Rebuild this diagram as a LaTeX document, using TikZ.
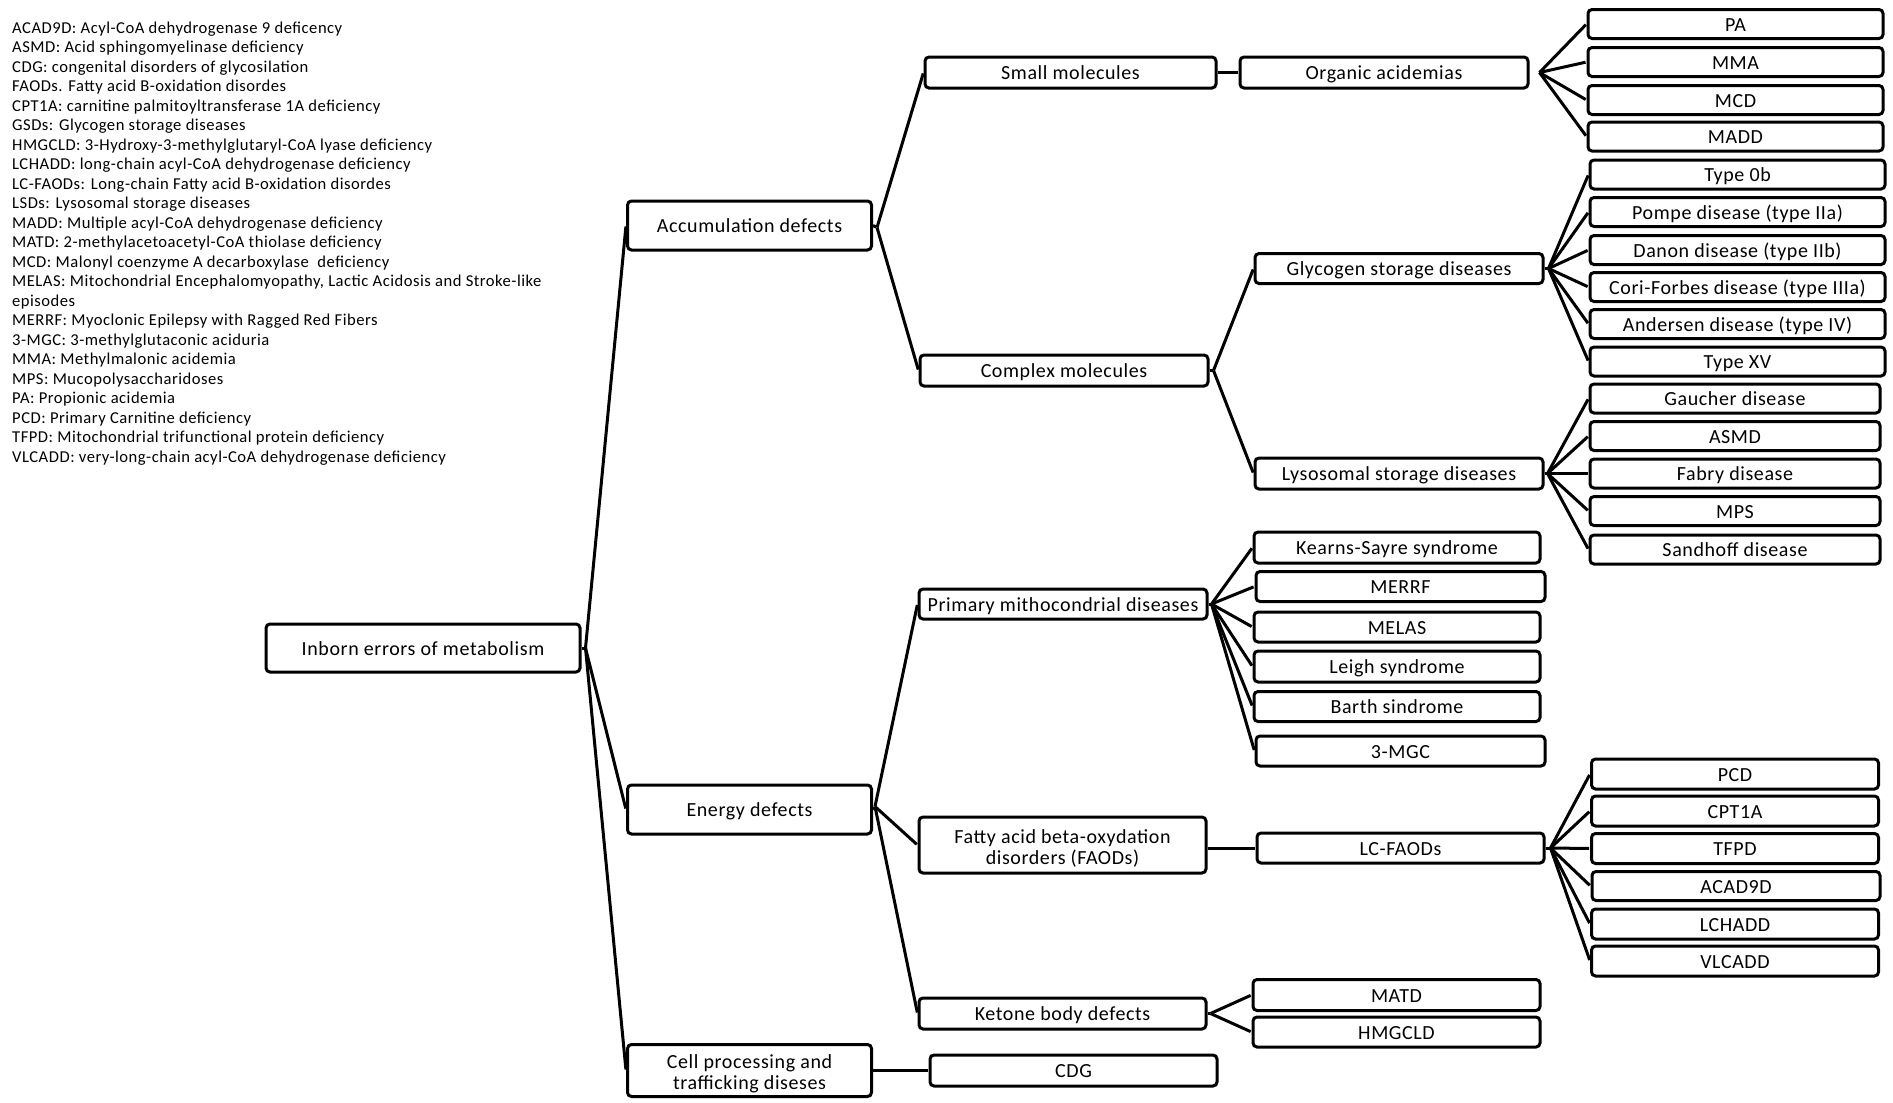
\documentclass[tikz,border=0pt]{standalone}
\usepackage{fontspec}
\usetikzlibrary{calc}
\newfontfamily\diagfont[LetterSpace=3]{Carlito}
\newcommand\dgboxfont{\diagfont\fontsize{20}{21}\selectfont}
\newcommand\dglegfont{\diagfont\fontsize{16.6}{19.5}\selectfont}
\newcommand\dgstrut{\rule{0pt}{20pt}}
\tikzset{
  box/.style={draw, line width=3pt, rounded corners=4pt, inner sep=0pt, align=center, font=\dgboxfont},
  one/.style={box, text height=16pt, text depth=2pt},
  link/.style={line width=3pt, shorten >=1pt},
  leg/.style={anchor=base west, inner sep=0pt, font=\dglegfont},
  wh/.style 2 args={minimum width=#1pt, minimum height=#2pt},
}
\begin{document}
\begin{tikzpicture}[x=1pt, y=-1pt]
\fill[white] (0,0) rectangle (1893,1103);
\useasboundingbox (0,0) rectangle (1893,1103);

% legend
\node[leg] (l1) at (12,33.3) {ACAD9D: Acyl-CoA dehydrogenase 9 deficency};
\node[leg] (l2) at (12,52.8) {ASMD: Acid sphingomyelinase deficiency};
\node[leg] (l3) at (12,72.3) {CDG: congenital disorders of glycosilation};
\node[leg] (l4) at (12,91.8) {FAODs. Fatty acid B-oxidation disordes};
\node[leg] (l5) at (12,111.3) {CPT1A: carnitine palmitoyltransferase 1A deficiency};
\node[leg] (l6) at (12,130.8) {GSDs: Glycogen storage diseases};
\node[leg] (l7) at (12,150.3) {HMGCLD: 3-Hydroxy-3-methylglutaryl-CoA lyase deficiency};
\node[leg] (l8) at (12,169.8) {LCHADD: long-chain acyl-CoA dehydrogenase deficiency};
\node[leg] (l9) at (12,189.3) {LC-FAODs: Long-chain Fatty acid B-oxidation disordes};
\node[leg] (l10) at (12,208.8) {LSDs: Lysosomal storage diseases};
\node[leg] (l11) at (12,228.3) {MADD: Multiple acyl-CoA dehydrogenase deficiency};
\node[leg] (l12) at (12,247.8) {MATD: 2-methylacetoacetyl-CoA thiolase deficiency};
\node[leg] (l13) at (12,267.3) {MCD: Malonyl coenzyme A decarboxylase\ \ deficiency};
\node[leg] (l14) at (12,286.8) {MELAS: Mitochondrial Encephalomyopathy, Lactic Acidosis and Stroke-like};
\node[leg] (l15) at (12,306.3) {episodes};
\node[leg] (l16) at (12,325.8) {MERRF: Myoclonic Epilepsy with Ragged Red Fibers};
\node[leg] (l17) at (12,345.3) {3-MGC: 3-methylglutaconic aciduria};
\node[leg] (l18) at (12,364.8) {MMA: Methylmalonic acidemia};
\node[leg] (l19) at (12,384.3) {MPS: Mucopolysaccharidoses};
\node[leg] (l20) at (12,403.8) {PA: Propionic acidemia};
\node[leg] (l21) at (12,423.3) {PCD: Primary Carnitine deficiency};
\node[leg] (l22) at (12,442.8) {TFPD: Mitochondrial trifunctional protein deficiency};
\node[leg] (l23) at (12,462.3) {VLCADD: very-long-chain acyl-CoA dehydrogenase deficiency};

% root and level 1
\node[one, wh={314}{48}] (inborn) at (423,648) {Inborn errors of metabolism};
\node[one, wh={244}{49}] (accum) at (749.5,225.5) {Accumulation defects};
\node[one, wh={244}{49}] (energy) at (749.5,809.5) {Energy defects};
\node[box, wh={244}{52}] (cell) at (749.5,1070.5) {\dgstrut Cell processing and\\trafficking diseses};

% level 2
\node[one, wh={291}{31}] (small) at (1070.5,72.5) {Small molecules};
\node[one, wh={288}{31}] (organic) at (1384,72.5) {Organic acidemias};
\node[one, wh={288}{31}] (complex) at (1064,370.5) {Complex molecules};
\node[one, wh={288}{30}] (glycogen) at (1399,268.5) {Glycogen storage diseases};
\node[one, wh={288}{31}] (lyso) at (1399,473.5) {Lysosomal storage diseases};
\node[one, wh={288}{30}] (primary) at (1063,604) {Primary mithocondrial diseases};
\node[box, wh={287}{56}] (faods) at (1062.5,845) {\dgstrut Fatty acid beta-oxydation\\disorders (FAODs)};
\node[one, wh={287}{31}] (ketone) at (1062.5,1013.5) {Ketone body defects};
\node[one, wh={287}{31}] (cdg) at (1073.5,1070.5) {CDG};

% level 3 (middle column)
\node[one, wh={286}{31}] (kearns) at (1397,547.5) {Kearns-Sayre syndrome};
\node[one, wh={289}{30}] (merrf) at (1400.5,586.5) {MERRF};
\node[one, wh={286}{30}] (melas) at (1397,627) {MELAS};
\node[one, wh={286}{31}] (leigh) at (1397,666.5) {Leigh syndrome};
\node[one, wh={286}{30}] (barth) at (1397,706.5) {Barth sindrome};
\node[one, wh={289}{30}] (mgc) at (1400.5,751) {3-MGC};
\node[one, wh={287}{30}] (lcfaods) at (1400.5,848) {LC-FAODs};
\node[one, wh={287}{31}] (matd) at (1396.5,995) {MATD};
\node[one, wh={287}{30}] (hmgcld) at (1396.5,1032) {HMGCLD};

% right column
\node[one, wh={295}{29}] (pa) at (1735.5,24) {PA};
\node[one, wh={295}{29}] (mma) at (1735.5,62) {MMA};
\node[one, wh={295}{29}] (mcd) at (1735.5,100) {MCD};
\node[one, wh={295}{29}] (madd) at (1735.5,136.5) {MADD};
\node[one, wh={295}{29}] (type0b) at (1737.5,174.5) {Type 0b};
\node[one, wh={295}{29}] (pompe) at (1737.5,212) {Pompe disease (type IIa)};
\node[one, wh={295}{29}] (danon) at (1737.5,250) {Danon disease (type IIb)};
\node[one, wh={295}{29}] (cori) at (1737.5,287) {Cori-Forbes disease (type IIIa)};
\node[one, wh={295}{29}] (andersen) at (1737.5,324) {Andersen disease (type IV)};
\node[one, wh={295}{29}] (typexv) at (1737.5,361.5) {Type XV};
\node[one, wh={290}{29}] (gaucher) at (1735,398.5) {Gaucher disease};
\node[one, wh={290}{29}] (asmd) at (1735,436) {ASMD};
\node[one, wh={290}{29}] (fabry) at (1735,473.5) {Fabry disease};
\node[one, wh={290}{29}] (mps) at (1735,511) {MPS};
\node[one, wh={290}{29}] (sandhoff) at (1735,549.5) {Sandhoff disease};
\node[one, wh={287}{30}] (pcd) at (1735,774) {PCD};
\node[one, wh={287}{30}] (cpt1a) at (1735,811) {CPT1A};
\node[one, wh={287}{30}] (tfpd) at (1735,848.5) {TFPD};
\node[one, wh={288}{29}] (acad9d) at (1736,886) {ACAD9D};
\node[one, wh={287}{30}] (lchadd) at (1735,924) {LCHADD};
\node[one, wh={287}{30}] (vlcadd) at (1735,961) {VLCADD};

% fan points
\coordinate (fI) at ($(inborn.east)+(4,0)$);
\coordinate (fA) at ($(accum.east)+(4,2)$);
\coordinate (fE) at ($(energy.east)+(2,-3)$);
\coordinate (fC) at ($(complex.east)+(4,0)$);
\coordinate (fO) at ($(organic.east)+(10,0)$);
\coordinate (fG) at ($(glycogen.east)+(4,0)$);
\coordinate (fL) at ($(lyso.east)+(3,0)$);
\coordinate (fP) at ($(primary.east)+(3,0)$);
\coordinate (fF) at ($(lcfaods.east)+(5,0)$);
\coordinate (fK) at ($(ketone.east)+(3,0)$);

% connectors
\draw[link] (inborn.east) -- (fI);
\foreach \c in {accum,energy,cell} \draw[link] (fI) -- (\c.west);
\draw[link] (accum.east) -- (fA);
\foreach \c in {small,complex} \draw[link] (fA) -- (\c.west);
\draw[link] (energy.east) -- (fE);
\foreach \c in {primary,faods,ketone} \draw[link] (fE) -- (\c.west);
\draw[link] (cell.east) -- (cdg.west);
\draw[link] (small.east) -- (organic.west);
\foreach \c in {pa,mma,mcd,madd} \draw[link] (fO) -- (\c.west);
\draw[link] (complex.east) -- (fC);
\foreach \c in {glycogen,lyso} \draw[link] (fC) -- (\c.west);
\draw[link] (glycogen.east) -- (fG);
\foreach \c in {type0b,pompe,danon,cori,andersen,typexv} \draw[link] (fG) -- (\c.west);
\draw[link] (lyso.east) -- (fL);
\foreach \c in {gaucher,asmd,fabry,mps,sandhoff} \draw[link] (fL) -- (\c.west);
\draw[link] (primary.east) -- (fP);
\foreach \c in {kearns,merrf,melas,leigh,barth,mgc} \draw[link] (fP) -- (\c.west);
\draw[link] (faods.east |- lcfaods.west) -- (lcfaods.west);
\draw[link] (lcfaods.east) -- (fF);
\foreach \c in {pcd,cpt1a,tfpd,acad9d,lchadd,vlcadd} \draw[link] (fF) -- (\c.west);
\draw[link] (ketone.east) -- (fK);
\foreach \c in {matd,hmgcld} \draw[link] (fK) -- (\c.west);
\end{tikzpicture}
\end{document}
